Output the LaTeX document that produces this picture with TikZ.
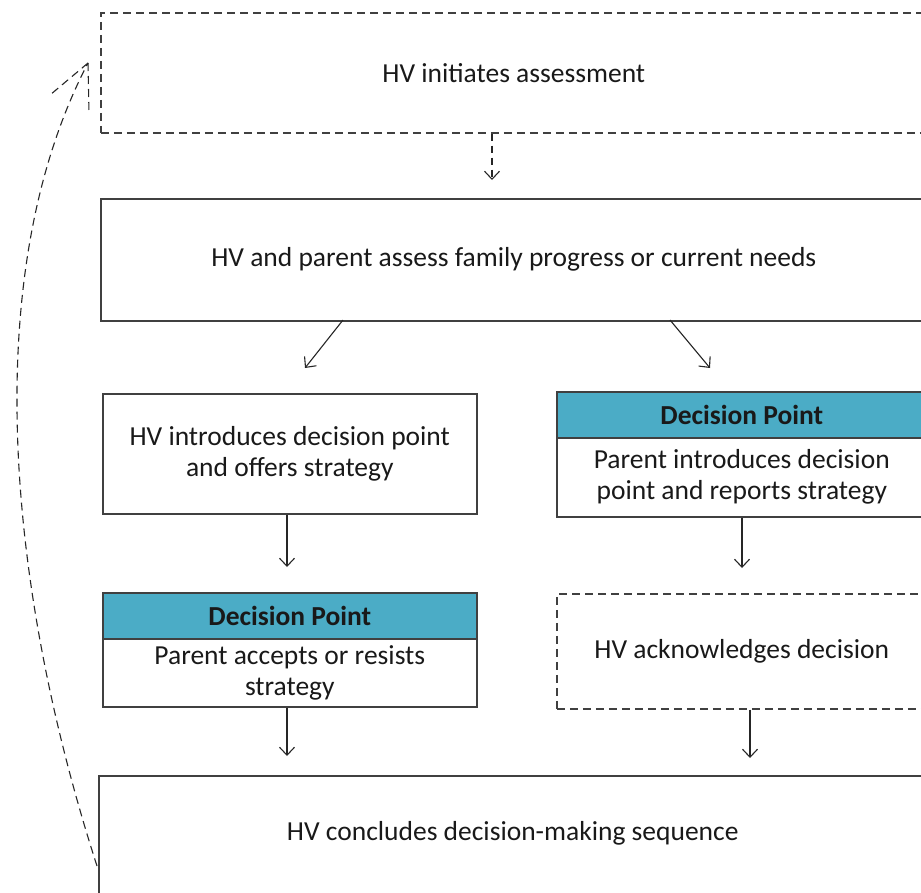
\documentclass[tikz,border=0pt]{standalone}
\usepackage{fontspec}
\setmainfont{Carlito}
\usetikzlibrary{arrows.meta}
\definecolor{teal5}{HTML}{4BACC6}
\definecolor{lin}{HTML}{404040}
\tikzset{
  box/.style={draw=lin, line width=1.6pt, rectangle, anchor=north west, inner sep=0pt, align=center, font=\fontsize{27.5}{31}\selectfont, text=black!90},
  dbox/.style={box, dash pattern=on 8pt off 5pt},
  head/.style={box, fill=teal5, font=\fontsize{27.5}{31}\selectfont\bfseries, text=black!90},
  lbl/.style={font=\fontsize{27.5}{31}\selectfont, text=black!90, inner sep=0pt},
  conn/.style={draw=black!85, line width=1.1pt, -{Straight Barb[length=8pt,width=15pt,line width=1.1pt]}},
  dconn/.style={conn, dash pattern=on 7pt off 5pt},
  dline/.style={draw=black!85, line width=1.1pt, dash pattern=on 8pt off 5pt},
}
\begin{document}
\begin{tikzpicture}[x=1pt,y=-1pt]
\useasboundingbox (0,0) rectangle (921,892);
\node[dbox, minimum width=826pt, minimum height=120pt] (top) at (100,12) {HV initiates assessment};
\node[box, minimum width=826pt, minimum height=122pt] (assess) at (100,198) {HV and parent assess family progress or current needs};
\node[box, minimum width=374pt, minimum height=120pt] (hvintro) at (102,393) {HV introduces decision point\\and offers strategy};
\node[head, minimum width=370pt, minimum height=46pt] (dp1h) at (556,391) {Decision Point};
\node[box, minimum width=370pt, minimum height=79pt] (dp1b) at (556,437) {Parent introduces decision\\point and reports strategy};
\node[head, minimum width=374pt, minimum height=46pt] (dp2h) at (102,592) {Decision Point};
\node[box, minimum width=374pt, minimum height=68pt] (dp2b) at (102,638) {Parent accepts or resists\\strategy};
\node[dbox, minimum width=370pt, minimum height=115pt] (ack) at (556,593) {HV acknowledges decision};
\node[box, minimum width=828pt, minimum height=160pt] (concl) at (98,775) {};
\node[lbl] (conclt) at ([yshift=-58pt]concl.north) {HV concludes decision-making sequence};
\coordinate (a1) at (492,180);
\coordinate (a2s) at (343,320); \coordinate (a2) at (305,368);
\coordinate (a3s) at (670,320); \coordinate (a3) at (710,368);
\coordinate (a4) at (287,567);
\coordinate (a5) at (742,568);
\coordinate (a6) at (287,756);
\coordinate (a7) at (750,758);
\draw[dconn] (top.south -| a1) -- (a1);
\draw[conn] (a2s) -- (a2);
\draw[conn] (a3s) -- (a3);
\draw[conn] (hvintro.south -| a4) -- (a4);
\draw[conn] (dp1b.south -| a5) -- (a5);
\draw[conn] (dp2b.south -| a6) -- (a6);
\draw[conn] (ack.south -| a7) -- (a7);
\coordinate (cs) at (97,866);
\coordinate (ce) at (88,63);
\draw[dline] (cs) .. controls (5,580) and (-20,270) .. (ce);
\draw[dline] (ce) -- (50,95);
\draw[dline] (ce) -- (89,113);
\end{tikzpicture}
\end{document}
